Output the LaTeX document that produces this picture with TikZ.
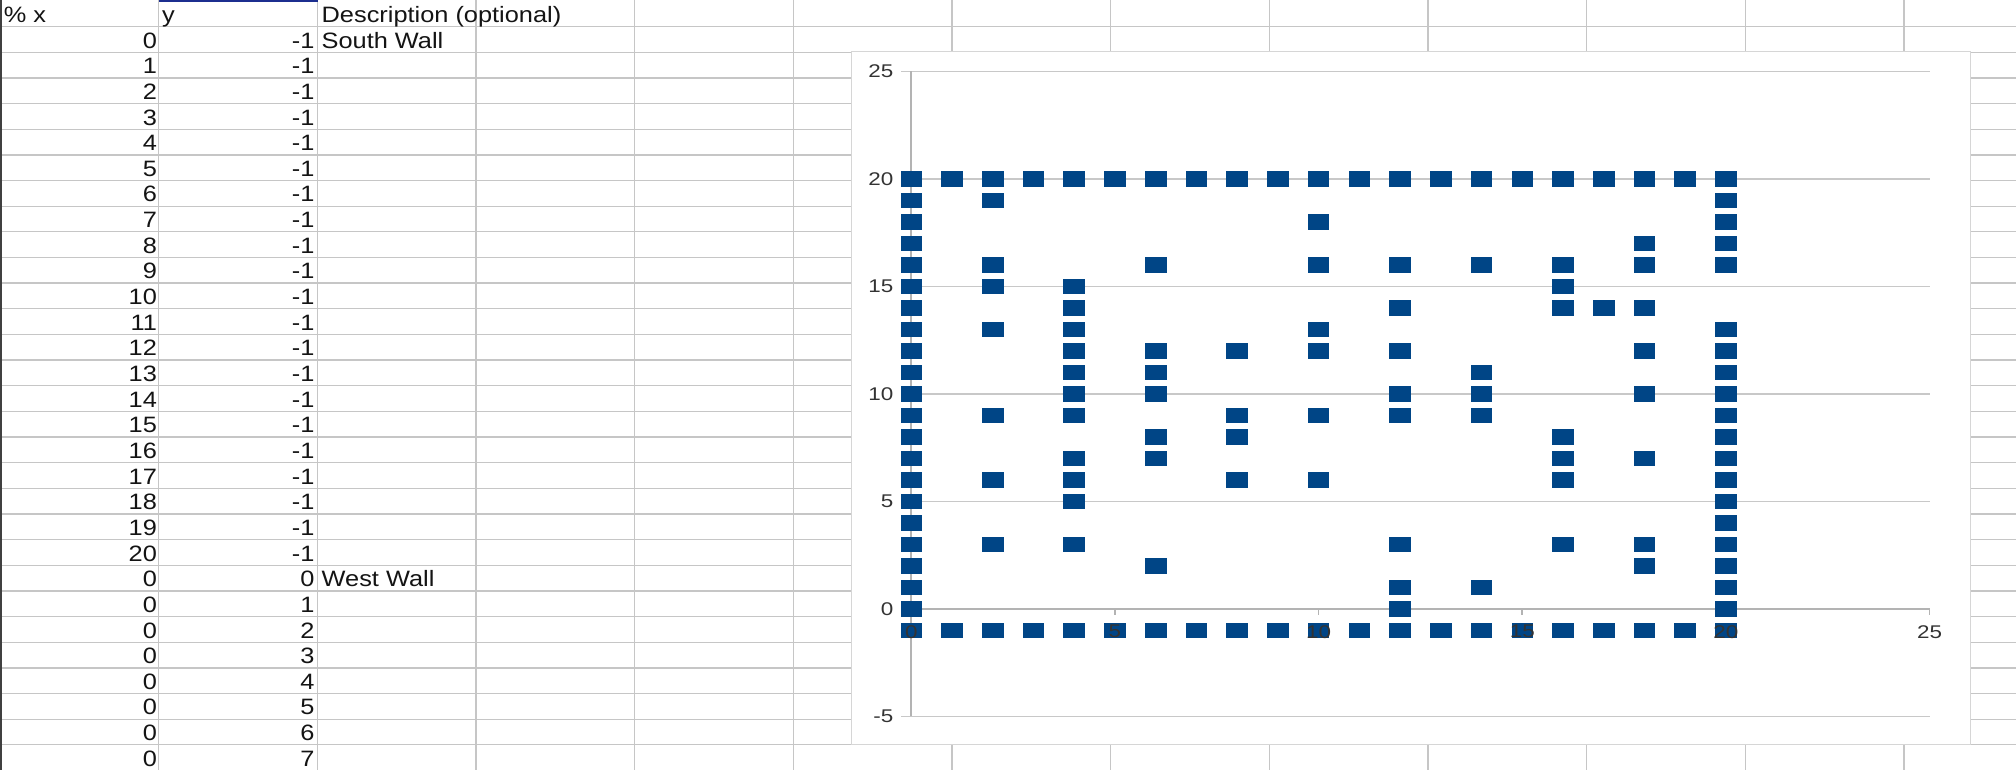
\documentclass[tikz,border=0pt]{standalone}
\usepackage{fontspec}
\setmainfont{Liberation Sans}
\usepackage{graphicx}
\definecolor{cellg}{HTML}{C6C6C6}
\definecolor{gridl}{HTML}{C8C8C8}
\definecolor{axc}{HTML}{B3B3B3}
\definecolor{ser}{HTML}{004586}
\definecolor{lblc}{HTML}{333333}
\definecolor{selb}{HTML}{1C2E8F}
\definecolor{chartb}{HTML}{D6D6D6}
\newcommand{\cellstr}[1]{\scalebox{1.14}[1]{#1}}
\newcommand{\chstr}[1]{\scalebox{1.22}[1]{#1}}
\tikzset{
  cellline/.style={draw=cellg, line width=1pt},
  celltext/.style={inner sep=0pt, text=black!92, font=\fontsize{17.3}{19}\selectfont},
  gridline/.style={draw=gridl, line width=1.3pt},
  axisline/.style={draw=axc, line width=1.3pt},
  mkr/.style={fill=ser},
  chlabel/.style={inner sep=0pt, text=lblc, font=\fontsize{14.3}{16}\selectfont}
}
\begin{document}
\begin{tikzpicture}[x=1pt,y=1pt]
\useasboundingbox (0,0) rectangle (1568,-599);
\fill[white] (0,0) rectangle (1568,-599);
% spreadsheet grid
\foreach \j in {0,...,28} \draw[cellline] (0,{-(20.7+19.95*\j)}) -- (1568,{-(20.7+19.95*\j)});
\foreach \c in {1,...,12} \draw[cellline] ({123.4*\c},0) -- ({123.4*\c},-599);
\draw[black!75, line width=1.2pt] (0.6,0) -- (0.6,-599);
\fill[selb] (123.4,0) rectangle (247,-1.6);
% header
\node[celltext, anchor=base west] (hx) at (2.8,-17.4) {\cellstr{\% x}};
\node[celltext, anchor=base west] (hy) at (125.8,-17.4) {\cellstr{y}};
\node[celltext, anchor=base west] (hd) at (250,-17.4) {\cellstr{Description (optional)}};
% data rows
\foreach \k in {0,...,20} {
  \node[celltext, anchor=base east] (xa\k) at (122.2,{-(37.4+19.95*\k)}) {\cellstr{\k}};
  \node[celltext, anchor=base east] (ya\k) at (244.8,{-(37.4+19.95*\k)}) {\cellstr{-1}};
}
\foreach \k in {0,...,7} {
  \node[celltext, anchor=base east] (xb\k) at (122.2,{-(37.4+19.95*(21+\k))}) {\cellstr{0}};
  \node[celltext, anchor=base east] (yb\k) at (244.8,{-(37.4+19.95*(21+\k))}) {\cellstr{\k}};
}
\node[celltext, anchor=base west] (dsouth) at (250,-37.4) {\cellstr{South Wall}};
\node[celltext, anchor=base west] (dwest) at (250,{-(37.4+19.95*21)}) {\cellstr{West Wall}};
% chart area
\filldraw[fill=white, draw=chartb, line width=1pt] (662,-40.2) rectangle (1532.5,-579);
\begin{scope}[shift={(708.8,-473.6)}, x=31.68pt, y=16.72pt]
  \foreach \v in {-5,0,...,25} \draw[gridline] (0,\v) ++(-7.8pt,0) -- (25,\v);
  \draw[axisline] (0,-5) -- (0,25);
  \draw[axisline] (0,0) -- (25,0);
  \foreach \v in {5,10,...,25} \draw[axisline] (\v,0) -- ++(0,-4.7pt);
  % walls
  \foreach \i in {0,...,20} {
    \fill[mkr] (\i,-1) +(-8.4pt,-6pt) rectangle +(8.4pt,6pt);
    \fill[mkr] (0,\i) +(-8.4pt,-6pt) rectangle +(8.4pt,6pt);
    \fill[mkr] (\i,20) +(-8.4pt,-6pt) rectangle +(8.4pt,6pt);
  }
  \foreach \j in {-1,0,...,13,16,17,18,19}
    \fill[mkr] (20,\j) +(-8.4pt,-6pt) rectangle +(8.4pt,6pt);
  % interior obstacles
  \foreach \px/\py in {2/19,2/16,2/15,2/13,2/9,2/6,2/3,
      4/15,4/14,4/13,4/12,4/11,4/10,4/9,4/7,4/6,4/5,4/3,
      6/16,6/12,6/11,6/10,6/8,6/7,6/2,
      8/12,8/9,8/8,8/6,
      10/18,10/16,10/13,10/12,10/9,10/6,
      12/16,12/14,12/12,12/10,12/9,12/3,12/1,12/0,
      14/16,14/11,14/10,14/9,14/1,
      16/16,16/15,16/14,16/8,16/7,16/6,16/3,
      17/14,
      18/17,18/16,18/14,18/12,18/10,18/7,18/3,18/2}
    \fill[mkr] (\px,\py) +(-8.4pt,-6pt) rectangle +(8.4pt,6pt);
  % axis labels
  \foreach \v in {-5,0,...,25}
    \node[chlabel, anchor=east] (yl\v) at ([xshift=-13.8pt]0,\v) {\chstr{\v}};
  \foreach \v in {0,5,...,25}
    \node[chlabel] (xl\v) at ([yshift=-17.7pt]\v,0) {\chstr{\v}};
\end{scope}
\end{tikzpicture}
\end{document}
